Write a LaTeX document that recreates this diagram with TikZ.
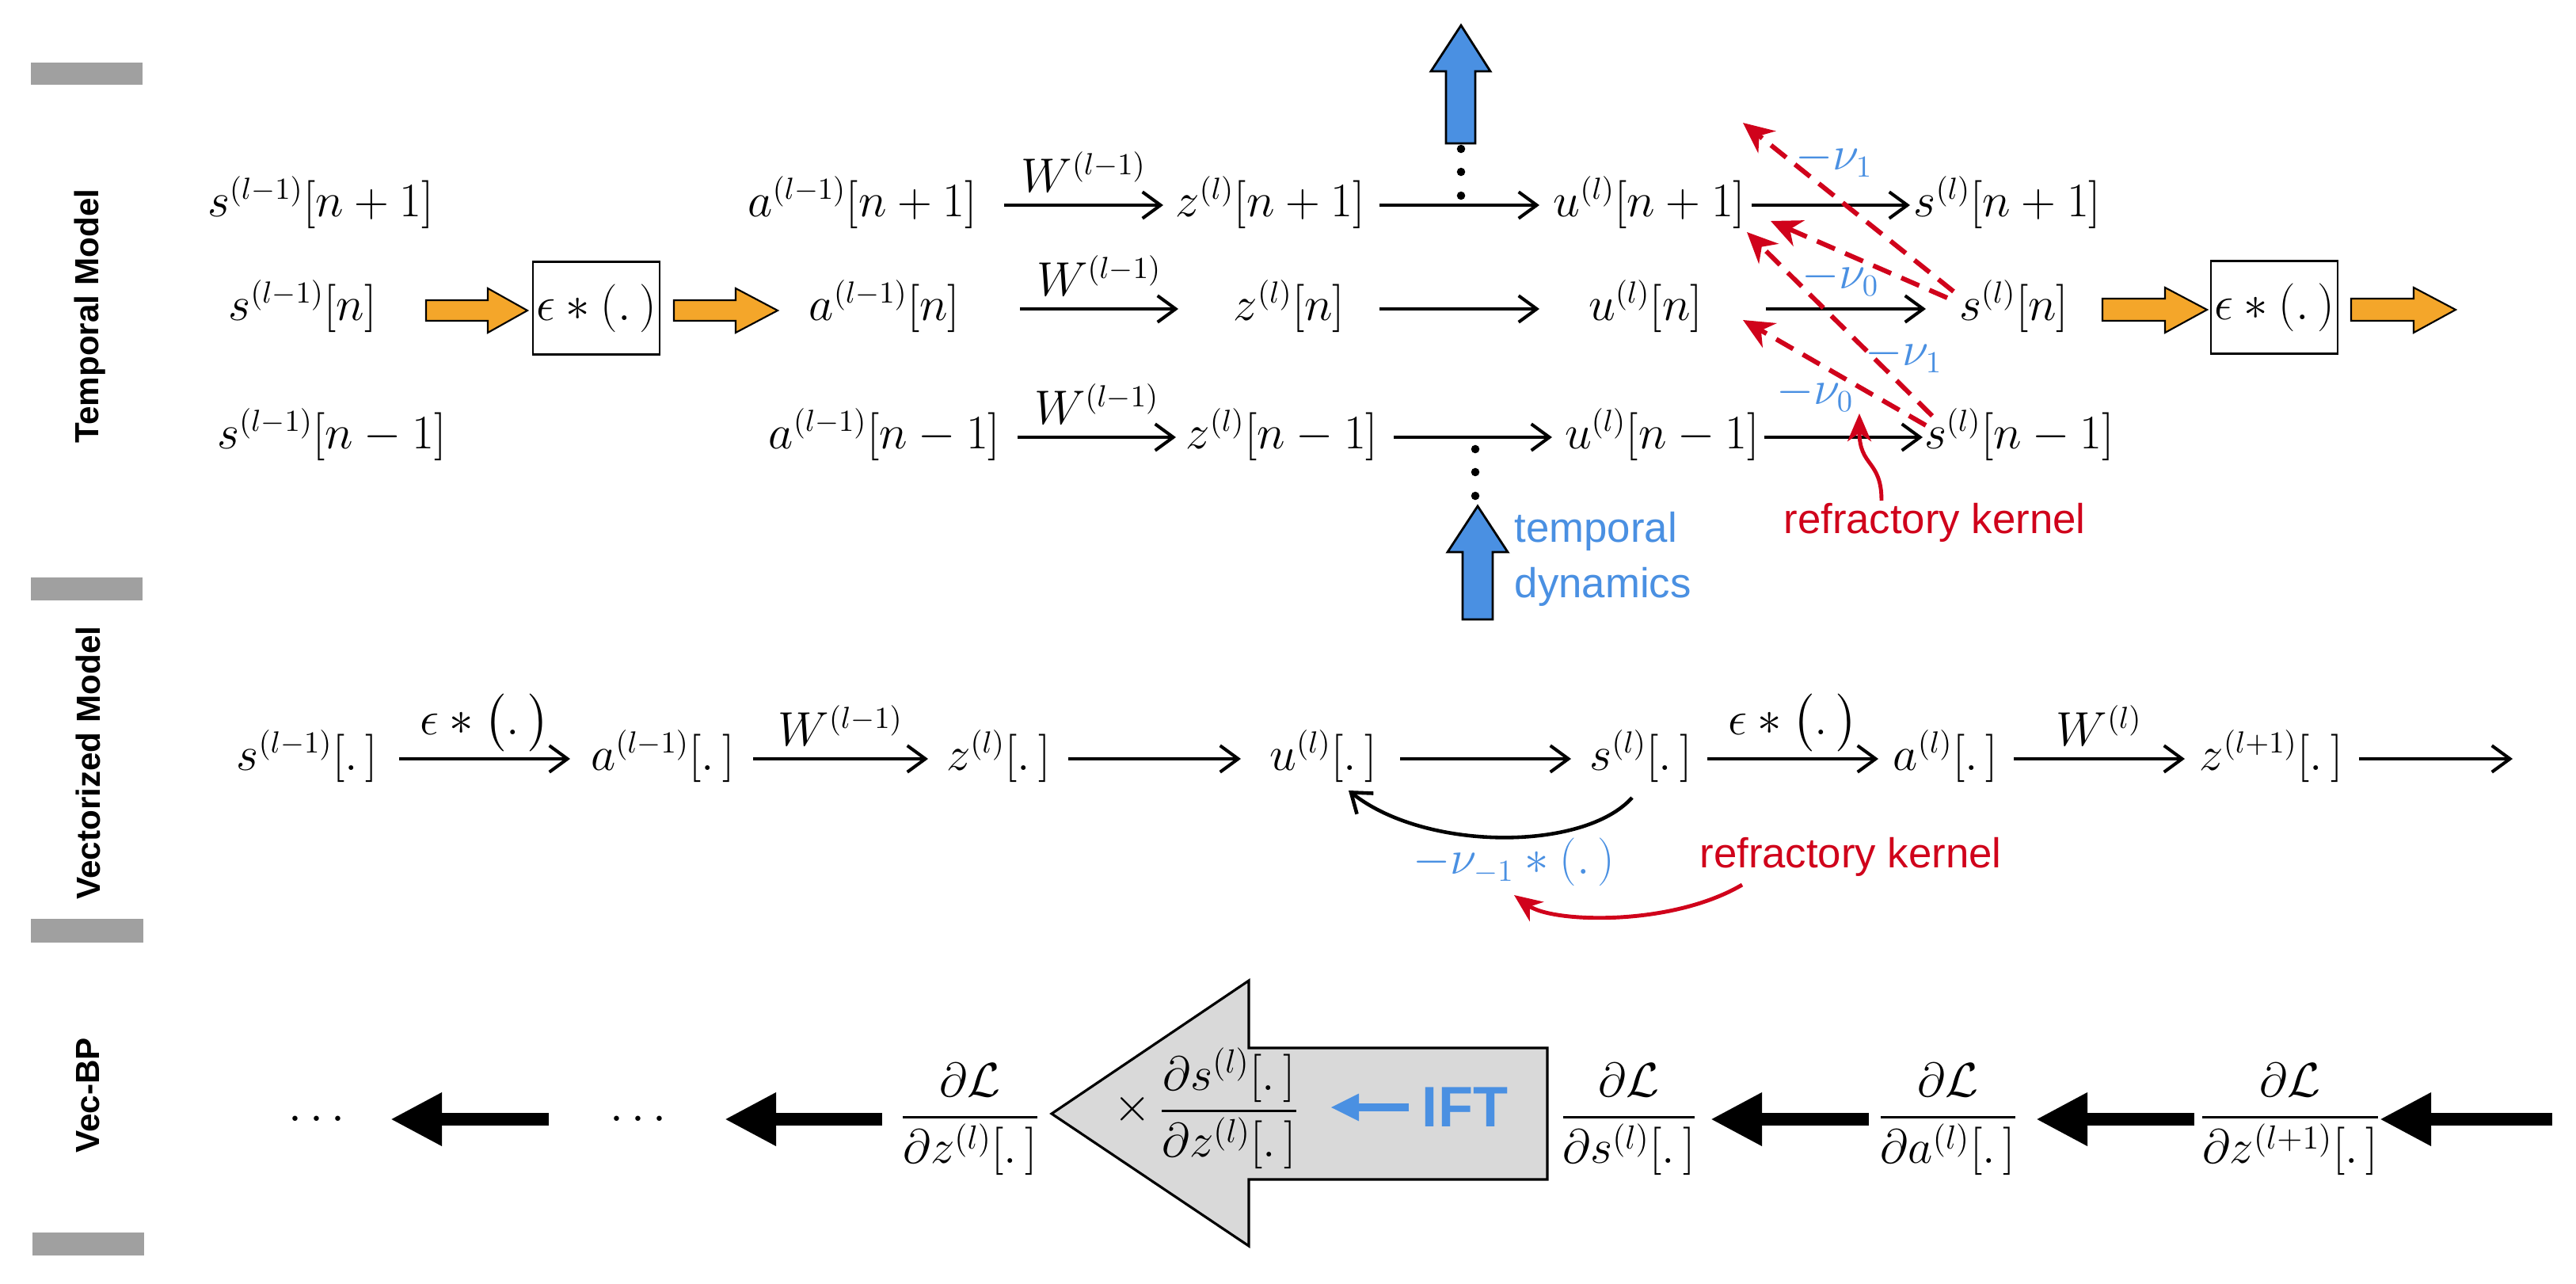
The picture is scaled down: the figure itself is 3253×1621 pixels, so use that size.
\documentclass[tikz,border=0pt]{standalone}
\usepackage[no-math]{fontspec}
\newfontfamily\arialf{Liberation Sans}
\usepackage{amsmath}
\usetikzlibrary{arrows.meta,calc}
\definecolor{myorange}{HTML}{F4A62A}
\definecolor{myblue}{HTML}{4A90E2}
\definecolor{myred}{HTML}{D0021B}
\definecolor{bargray}{HTML}{A0A0A0}
\definecolor{arrgray}{HTML}{D9D9D9}
\begin{document}
\begin{tikzpicture}[x=0.01cm,y=-0.01cm,
  mth/.style={font=\fontsize{16}{19}\selectfont, inner sep=0pt, text height=16pt, text depth=8pt},
  lab/.style={font=\fontsize{16}{19}\selectfont, above, inner sep=4pt},
  nul/.style={font=\fontsize{16}{19}\selectfont, text=myblue, inner sep=0pt},
  frc/.style={font=\fontsize{16.5}{19}\selectfont, inner sep=0pt},
  side/.style={font=\arialf\bfseries\fontsize{12}{14}\selectfont, rotate=90},
  arr/.style={line width=1.15pt, -{Straight Barb[length=6.5pt,width=9.5pt]}},
  reddash/.style={myred, line width=1.7pt, dash pattern=on 7pt off 4pt, -{Stealth[length=11pt,width=10pt,inset=3.5pt]}},
  redcurve/.style={myred, line width=1.4pt, -{Stealth[length=10pt,width=8.5pt,inset=3pt]}},
  bigarr/.style={line width=0.16cm, -{Triangle[length=0.65cm,width=0.63cm]}},
  orng/.style={fill=myorange, draw=black, line width=0.6pt},
  bluear/.style={fill=myblue, draw=black, line width=0.8pt},
  opbox/.style={draw, line width=0.7pt, minimum width=1.6cm, minimum height=1.17cm, inner sep=0pt, font=\fontsize{16}{19}\selectfont},
  rk/.style={font=\arialf\fontsize{15}{18}\selectfont, text=myred, inner sep=0pt}
]
\path[fill=white] (0,0) rectangle (3253,1621);

% side bars and labels
\fill[bargray] (39,79) rectangle (180,107);
\fill[bargray] (39,729) rectangle (180,758);
\fill[bargray] (39,1160) rectangle (181,1190);
\fill[bargray] (41,1556) rectangle (182,1585);
\node[side] (tm) at (114,399) {Temporal Model};
\node[side] (vm) at (111,963) {Vectorized Model};
\node[side] (vb) at (111,1383) {Vec-BP};

% ---------------- Temporal model ----------------
\node[mth] (sL1) at (405,259) {$s^{(l-1)}[n+1]$};
\node[mth] (sL0) at (382,390) {$s^{(l-1)}[n]$};
\node[mth] (sLm) at (419,552) {$s^{(l-1)}[n-1]$};

\draw[orng] (538,379) -- (616,379) -- (616,364) -- (666,392) -- (616,420) -- (616,405) -- (538,405) -- cycle;
\node[opbox] (box1) at (753,389) {$\epsilon*(.\,)$};
\draw[orng] (851,379) -- (929,379) -- (929,364) -- (982,392) -- (929,420) -- (929,405) -- (851,405) -- cycle;

\node[mth] (aL1) at (1089,259) {$a^{(l-1)}[n+1]$};
\node[mth] (aL0) at (1117,390) {$a^{(l-1)}[n]$};
\node[mth] (aLm) at (1117,552) {$a^{(l-1)}[n-1]$};

\node[mth] (zN1) at (1604,259) {$z^{(l)}[n+1]$};
\node[mth] (zN0) at (1628,390) {$z^{(l)}[n]$};
\node[mth] (zNm) at (1619,552) {$z^{(l)}[n-1]$};

\node[mth] (uN1) at (2083,259) {$u^{(l)}[n+1]$};
\node[mth] (uN0) at (2078,390) {$u^{(l)}[n]$};
\node[mth] (uNm) at (2099,552) {$u^{(l)}[n-1]$};

\node[mth] (sN1) at (2535,259) {$s^{(l)}[n+1]$};
\node[mth] (sN0) at (2543,390) {$s^{(l)}[n]$};
\node[mth] (sNm) at (2550,552) {$s^{(l)}[n-1]$};

\draw[orng] (2655,377) -- (2734,377) -- (2734,363) -- (2787,391) -- (2734,420) -- (2734,405) -- (2655,405) -- cycle;
\node[opbox] (box2) at (2872,388) {$\epsilon*(.\,)$};
\draw[orng] (2969,377) -- (3048,377) -- (3048,363) -- (3101,391) -- (3048,420) -- (3048,405) -- (2969,405) -- cycle;

% row arrows
\draw[arr] ($(aL1)+(179,0)$) -- node[lab]{$W^{(l-1)}$} ($(zN1)+(-135,0)$);
\draw[arr] ($(zN1)+(138,0)$) -- ($(uN1)+(-139,0)$);
\draw[arr] ($(uN1)+(129,0)$) -- ($(sN1)+(-123,0)$);
\draw[arr] ($(aL0)+(171,0)$) -- node[lab]{$W^{(l-1)}$} ($(zN0)+(-140,0)$);
\draw[arr] ($(zN0)+(114,0)$) -- ($(uN0)+(-134,0)$);
\draw[arr] ($(uN0)+(152,0)$) -- ($(sN0)+(-111,0)$);
\draw[arr] ($(aLm)+(168,0)$) -- node[lab]{$W^{(l-1)}$} ($(zNm)+(-134,0)$);
\draw[arr] ($(zNm)+(141,0)$) -- ($(uNm)+(-139,0)$);
\draw[arr] ($(uNm)+(129,0)$) -- ($(sNm)+(-122,0)$);

% temporal dynamics arrows and dots
\draw[bluear] (1826,181) -- (1826,90) -- (1807,90) -- (1845,32) -- (1882,90) -- (1863,90) -- (1863,181) -- cycle;
\fill (1845,188) circle (1.5pt);
\fill (1845,217) circle (1.5pt);
\fill (1845,247) circle (1.5pt);
\fill (1863,567) circle (1.5pt);
\fill (1863,596) circle (1.5pt);
\fill (1863,626) circle (1.5pt);
\draw[bluear] (1847,782) -- (1847,697) -- (1828,697) -- (1866,639) -- (1904,697) -- (1885,697) -- (1885,782) -- cycle;
\node[anchor=west, align=left, font=\arialf\fontsize{15}{20}\selectfont, text=myblue, inner sep=0pt] (td) at (1912,706) {temporal\\dynamics};

% refractory (dashed red)
\coordinate (tipA) at (2201,155);
\draw[reddash] ($(sN0)+(-76,-22)$) -- (tipA);
\draw[reddash] ($(sN0)+(-84,-14)$) -- ($(uN1)+(153,20)$);
\draw[reddash] ($(sNm)+(-110,-27)$) -- ($(uN1)+(123,34)$);
\draw[reddash] ($(sNm)+(-118,-15)$) -- ($(uN0)+(123,14)$);
\node[nul] (nu1a) at (2316,201) {$-\nu_1$};
\node[nul] (nu0a) at (2324,351) {$-\nu_0$};
\node[nul] (nu1b) at (2404,448) {$-\nu_1$};
\node[nul] (nu0b) at (2292,497) {$-\nu_0$};

\node[rk] (rk1) at (2443,660) {refractory kernel};
\coordinate (rkTip) at (2348,522);
\draw[redcurve] ($(rk1)+(-67,-28)$) .. controls (2376,580) and (2348,590) .. (rkTip);

% ---------------- Vectorized model ----------------
\node[mth] (sV1) at (388,958) {$s^{(l-1)}[.\,]$};
\node[mth] (aV1) at (837,958) {$a^{(l-1)}[.\,]$};
\node[mth] (zV) at (1261,958) {$z^{(l)}[.\,]$};
\node[mth] (uV) at (1671,958) {$u^{(l)}[.\,]$};
\node[mth] (sV) at (2072,958) {$s^{(l)}[.\,]$};
\node[mth] (aV) at (2457,958) {$a^{(l)}[.\,]$};
\node[mth] (zV2) at (2868,958) {$z^{(l+1)}[.\,]$};
\coordinate (endV) at (3173,958);

\draw[arr] ($(sV1)+(116,0)$) -- node[lab, inner sep=2pt]{$\epsilon*\bigl(.\,\bigr)$} ($(aV1)+(-117,0)$);
\draw[arr] ($(aV1)+(114,0)$) -- node[lab]{$W^{(l-1)}$} ($(zV)+(-89,0)$);
\draw[arr] ($(zV)+(88,0)$) -- ($(uV)+(-104,0)$);
\draw[arr] ($(uV)+(97,0)$) -- ($(sV)+(-88,0)$);
\draw[arr] ($(sV)+(84,0)$) -- node[lab, inner sep=2pt]{$\epsilon*\bigl(.\,\bigr)$} ($(aV)+(-85,0)$);
\draw[arr] ($(aV)+(86,0)$) -- node[lab]{$W^{(l)}$} ($(zV2)+(-109,0)$);
\draw[arr] ($(zV2)+(111,0)$) -- (endV);

\draw[arr, line width=1.3pt] ($(sV)+(-11,49)$) .. controls (2000,1075) and (1800,1075) .. ($(uV)+(32,40)$);
\node[nul] (nuV) at (1912,1088) {$-\nu_{-1}*(.\,)$};
\node[rk] (rk2) at (2337,1082) {refractory kernel};
\draw[redcurve] ($(rk2)+(-137,35)$) .. controls (2110,1170) and (1960,1165) .. ($(nuV)+(0,42)$);

% ---------------- Vec-BP ----------------
\node[mth] (dots1) at (405,1413) {$\cdots$};
\node[mth] (dots2) at (811,1413) {$\cdots$};
\node[frc] (fz) at (1225,1413) {$\displaystyle\frac{\partial\mathcal{L}}{\partial z^{(l)}[.\,]}$};
\draw[fill=arrgray, line width=0.9pt] (1954,1323) -- (1577,1323) -- (1577,1238) -- (1328,1406) -- (1577,1573) -- (1577,1489) -- (1954,1489) -- cycle;
\node[frc] (tms) at (1430,1400) {$\times$};
\node[frc] (fsz) at (1552,1399) {$\displaystyle\frac{\partial s^{(l)}[.\,]}{\partial z^{(l)}[.\,]}$};
\node[font=\arialf\bfseries\fontsize{20.5}{24}\selectfont, text=myblue, inner sep=0pt] (ift) at (1850,1398) {IFT};
\draw[myblue, line width=0.1cm, -{Triangle[length=0.36cm,width=0.32cm]}] ($(ift)+(-71,0)$) -- ($(ift)+(-170,0)$);
\node[frc] (fs) at (2057,1413) {$\displaystyle\frac{\partial\mathcal{L}}{\partial s^{(l)}[.\,]}$};
\node[frc] (fa) at (2460,1413) {$\displaystyle\frac{\partial\mathcal{L}}{\partial a^{(l)}[.\,]}$};
\node[frc] (fz2) at (2892,1413) {$\displaystyle\frac{\partial\mathcal{L}}{\partial z^{(l+1)}[.\,]}$};
\coordinate (tailR) at (3223,1413);

\draw[bigarr] (tailR) -- ($(fz2)+(113,0)$);
\draw[bigarr] ($(fz2)+(-121,0)$) -- ($(fa)+(111,0)$);
\draw[bigarr] ($(fa)+(-100,0)$) -- ($(fs)+(103,0)$);
\draw[bigarr] ($(fz)+(-111,0)$) -- ($(dots2)+(104,0)$);
\draw[bigarr] ($(dots2)+(-118,0)$) -- ($(dots1)+(88,0)$);
\end{tikzpicture}
\end{document}
